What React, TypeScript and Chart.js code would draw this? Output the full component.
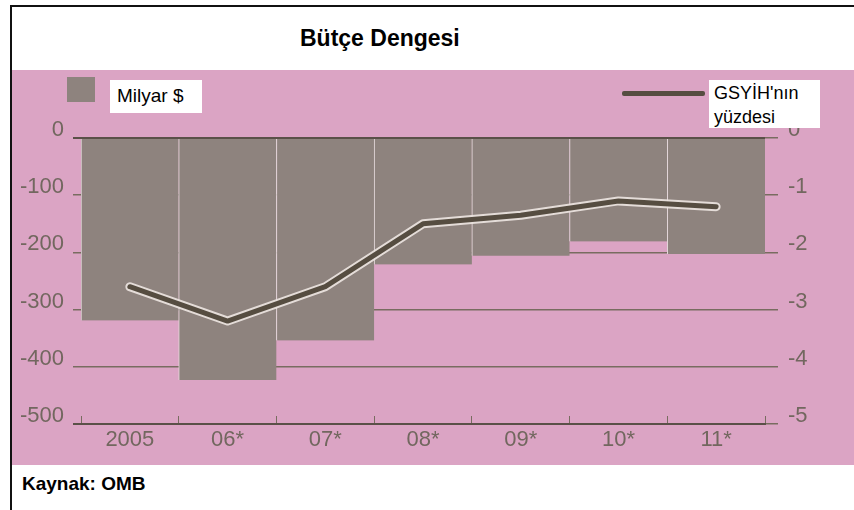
import React, { useEffect, useRef } from "react";
import { Chart, registerables } from "chart.js";

Chart.register(...registerables);

// ---- data ----
const categories = ["2005", "06*", "07*", "08*", "09*", "10*", "11*"];
const balanceBillions = [-319, -423, -354, -221, -206, -181, -203];
const balancePctGdp = [-2.6, -3.2, -2.6, -1.5, -1.35, -1.1, -1.2];
const leftAxisMin = -500;
const leftAxisStep = 100;
const rightAxisMin = -5;
const rightAxisStep = 1;

const titleText = "Bütçe Dengesi";
const barLegendText = "Milyar $";
const lineLegendLines = ["GSYİH'nın", "yüzdesi"];
const sourceText = "Kaynak: OMB";

// ---- styles ----
const PINK = "#dba4c4";
const BAR = "#8e837e";
const LINE = "#564d41";
const HALO = "rgba(236,228,224,0.92)";
const TICK_TEXT = "#72675f";
const GRID = "#786c60";
const FONT = "'Liberation Sans', Arial, Helvetica, sans-serif";

export default function App() {
  const canvasRef = useRef<HTMLCanvasElement | null>(null);

  useEffect(() => {
    const canvas = canvasRef.current;
    if (!canvas) return;
    const tickFont = { family: FONT, size: 22 };
    const chart = new Chart(canvas, {
      data: {
        labels: categories,
        datasets: [
          {
            type: "line",
            label: "GSYİH'nın yüzdesi",
            data: balancePctGdp,
            yAxisID: "y2",
            borderColor: LINE,
            borderWidth: 5,
            borderCapStyle: "round",
            borderJoinStyle: "round",
            pointRadius: 0,
            tension: 0,
            order: 1,
          },
          {
            type: "line",
            label: "halo",
            data: balancePctGdp,
            yAxisID: "y2",
            borderColor: HALO,
            borderWidth: 9,
            borderCapStyle: "round",
            borderJoinStyle: "round",
            pointRadius: 0,
            tension: 0,
            order: 2,
          },
          {
            type: "bar",
            label: "Milyar $",
            data: balanceBillions,
            yAxisID: "y",
            backgroundColor: BAR,
            borderColor: "#e6dadd",
            borderWidth: { left: 1, right: 0, top: 0, bottom: 0 },
            borderSkipped: false,
            categoryPercentage: 1,
            barPercentage: 1,
            order: 3,
          },
        ],
      } as any,
      options: {
        responsive: false,
        animation: false,
        layout: { padding: { top: 68, left: 0, right: 0, bottom: 0 } },
        plugins: {
          legend: { display: false },
          title: { display: false },
          tooltip: { enabled: false },
        },
        scales: {
          x: {
            type: "category",
            offset: true,
            grid: {
              display: true,
              offset: true,
              drawOnChartArea: false,
              drawTicks: true,
              tickLength: -8,
              color: GRID,
              lineWidth: 1,
            },
            border: { display: true, color: "#5a5048", width: 2 },
            ticks: { color: TICK_TEXT, font: tickFont, padding: 11, maxRotation: 0, autoSkip: false },
            afterFit: (s: any) => {
              s.height = 41;
            },
          },
          y: {
            position: "left",
            min: leftAxisMin,
            max: 0,
            ticks: {
              stepSize: leftAxisStep,
              color: TICK_TEXT,
              font: tickFont,
              padding: 9,
              labelOffset: -8,
            },
            grid: {
              color: (ctx: any) => (ctx.tick && (ctx.tick.value === 0 || ctx.tick.value === leftAxisMin) ? "#5a5048" : GRID),
              lineWidth: (ctx: any) => (ctx.tick && (ctx.tick.value === 0 || ctx.tick.value === leftAxisMin) ? 2 : 1.5),
              drawTicks: true,
              tickLength: 8,
            },
            border: { display: false },
            afterFit: (s: any) => {
              s.width = 69;
            },
          },
          y2: {
            position: "right",
            min: rightAxisMin,
            max: 0,
            ticks: {
              stepSize: rightAxisStep,
              color: TICK_TEXT,
              font: tickFont,
              padding: 10,
              labelOffset: -8,
            },
            grid: {
              drawOnChartArea: false,
              drawTicks: true,
              tickLength: 13,
              color: GRID,
              lineWidth: 1.5,
            },
            border: { display: false },
            afterFit: (s: any) => {
              s.width = 89;
            },
          },
        },
      } as any,
    });
    return () => chart.destroy();
  }, []);

  const abs = (o: React.CSSProperties): React.CSSProperties => ({ position: "absolute", ...o });

  return (
    <div style={abs({ left: 0, top: 0, width: 854, height: 510, background: "#fff", overflow: "hidden", fontFamily: FONT })}>
      <div style={abs({ left: 10, top: 5, width: 900, height: 600, borderLeft: "2px solid #111", borderTop: "2px solid #111" })} />
      <canvas
        ref={canvasRef}
        width={842}
        height={395}
        style={abs({ left: 12, top: 70, width: 842, height: 395, background: PINK, display: "block" })}
      />
      <div style={abs({ left: 300, top: 27, fontSize: 23, lineHeight: "23px", fontWeight: 700, color: "#000", whiteSpace: "nowrap" })}>
        {titleText}
      </div>
      <div style={abs({ left: 67, top: 77, width: 28, height: 25, background: BAR })} />
      <div
        style={abs({
          left: 110,
          top: 80,
          width: 92,
          height: 33,
          background: "#fff",
          fontSize: 19,
          lineHeight: "31px",
          paddingLeft: 7,
          boxSizing: "border-box",
          color: "#000",
          whiteSpace: "nowrap",
        })}
      >
        {barLegendText}
      </div>
      <div style={abs({ left: 622, top: 91, width: 83, height: 5, background: LINE, borderRadius: 2 })} />
      <div
        style={abs({
          left: 709,
          top: 80,
          width: 111,
          height: 48,
          background: "#fff",
          fontSize: 18,
          lineHeight: "24px",
          paddingLeft: 5,
          paddingTop: 1,
          boxSizing: "border-box",
          color: "#000",
          whiteSpace: "nowrap",
        })}
      >
        {lineLegendLines.map((t) => (
          <div key={t}>{t}</div>
        ))}
      </div>
      <div style={abs({ left: 22, top: 474, fontSize: 19, lineHeight: "19px", fontWeight: 700, color: "#000", whiteSpace: "nowrap" })}>
        {sourceText}
      </div>
    </div>
  );
}
